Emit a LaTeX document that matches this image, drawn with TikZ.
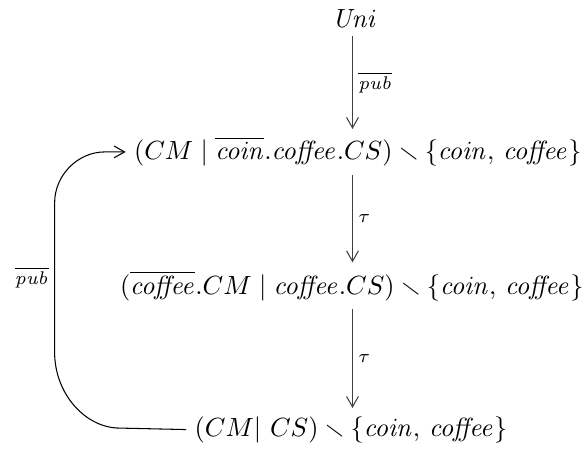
\documentclass[tikz,border=0pt]{standalone}
\usepackage{amsmath,amssymb}
\usetikzlibrary{arrows.meta,calc}

\begin{document}
\begin{tikzpicture}[
  x=1cm,
  y=1cm,
  line width=0.4pt,
  every node/.style={font=\normalsize},
  state/.style={inner sep=3pt},
  trans/.style={-{Straight Barb[length=4pt,width=4.5pt]}, draw=black!75},
  translabel/.style={font=\scriptsize, inner sep=2pt},
]
\useasboundingbox (0,0) rectangle (7.79,-6.04);
\coordinate (axis) at (4.71,0);
\node[state] (Uni) at (4.74,-0.25) {$\mathit{Uni}$};
\node[state] (S1) at (4.78,-2.03) {$(CM \mid \overline{\mathit{coin}}.\mathit{coffee}.CS) \smallsetminus \{\mathit{coin},\,\mathit{coffee}\}$};
\node[state] (S2) at (4.70,-3.82) {$(\overline{\mathit{coffee}}.CM \mid \mathit{coffee}.CS) \smallsetminus \{\mathit{coin},\,\mathit{coffee}\}$};
\node[state] (S3) at (4.69,-5.74) {$(CM|\ CS) \smallsetminus \{\mathit{coin},\,\mathit{coffee}\}$};
\draw[trans] (Uni.south -| axis) -- node[translabel, right] {$\overline{\mathit{pub}}$} (S1.north -| axis);
\draw[trans] (S1.south -| axis) -- node[translabel, right] {$\tau$} (S2.north -| axis);
\draw[trans] (S2.south -| axis) -- node[translabel, right] {$\tau$} (S3.north -| axis);
\draw[trans, draw=black] (S3.west) -- (1.60,-5.72)
  .. controls (1.14,-5.72) and (0.73,-5.26) .. (0.73,-4.71)
  -- node[translabel, left] {$\overline{\mathit{pub}}$} (0.73,-2.71)
  .. controls (0.73,-2.34) and (1.04,-2.03) .. (1.40,-2.03)
  -- (S1.west);
\end{tikzpicture}
\end{document}
